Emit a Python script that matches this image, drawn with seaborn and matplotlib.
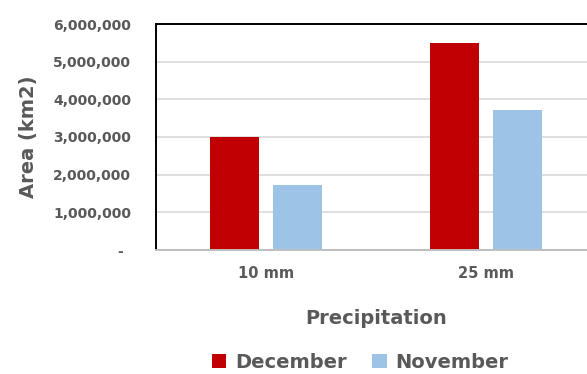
import matplotlib
matplotlib.use("Agg")
import matplotlib.pyplot as plt
import seaborn as sns
import pandas as pd
from matplotlib.patches import Patch

categories = ["10 mm", "25 mm"]
december = [3000000, 5500000]
november = [1720000, 3710000]
series_names = ["December", "November"]
y_ticks = [0, 1000000, 2000000, 3000000, 4000000, 5000000, 6000000]

df = pd.DataFrame({
    "Precipitation": categories * 2,
    "Month": [series_names[0]] * len(categories) + [series_names[1]] * len(categories),
    "Area": december + november,
})

sns.set_theme(style="white")
plt.rcParams["font.family"] = ["DejaVu Sans"]
plt.rcParams["font.weight"] = "bold"

text_color = "#595959"
palette = {"December": "#C00000", "November": "#9DC3E6"}

fig = plt.figure(figsize=(5.87, 3.74), dpi=100)
ax = fig.add_axes([156 / 587, (374 - 250) / 374, 440 / 587, (250 - 24) / 374])

sns.barplot(data=df, x="Precipitation", y="Area", hue="Month", palette=palette,
            width=0.573, gap=0.22, ax=ax, legend=False, saturation=1, linewidth=0)

ax.set_xlim(-0.5, 1.5)
ax.set_ylim(0, 6000000)
ax.set_yticks(y_ticks)
ax.set_yticklabels([f"{v:,}" if v else "-\u2002" for v in y_ticks])
ax.yaxis.grid(True, color="#D9D9D9", linewidth=1.2)
ax.set_axisbelow(True)

for side in ["top", "left", "right"]:
    ax.spines[side].set_color("black")
    ax.spines[side].set_linewidth(1.4)
ax.spines["bottom"].set_color("#BFBFBF")
ax.spines["bottom"].set_linewidth(1.4)

ax.tick_params(axis="y", length=0, pad=18, labelsize=10, labelcolor=text_color)
ax.tick_params(axis="x", length=0, pad=11.5, labelsize=10.5, labelcolor=text_color)
for lbl in ax.get_xticklabels() + ax.get_yticklabels():
    lbl.set_fontweight("bold")

ax.set_xlabel("Precipitation", fontsize=14, fontweight="bold", color=text_color)
ax.xaxis.label.set_va("center")
ax.xaxis.set_label_coords(0.5, -68 / 226)
ax.set_ylabel("Area (km2)", fontsize=14, fontweight="bold", color=text_color)
ax.yaxis.label.set_va("center")
ax.yaxis.set_label_coords((28 - 156) / 440, 0.5)

handles = [Patch(facecolor=palette[n], edgecolor="none", label=n) for n in series_names]
fig.legend(handles=handles, loc="center", bbox_to_anchor=(360 / 587, 1 - 362 / 374), ncol=2,
           frameon=False, prop={"size": 14, "weight": "bold"}, labelcolor=text_color,
           handlelength=0.75, handleheight=0.75, handletextpad=0.45, columnspacing=1.3,
           borderpad=0, borderaxespad=0)

fig.savefig("out.png", dpi=100)
